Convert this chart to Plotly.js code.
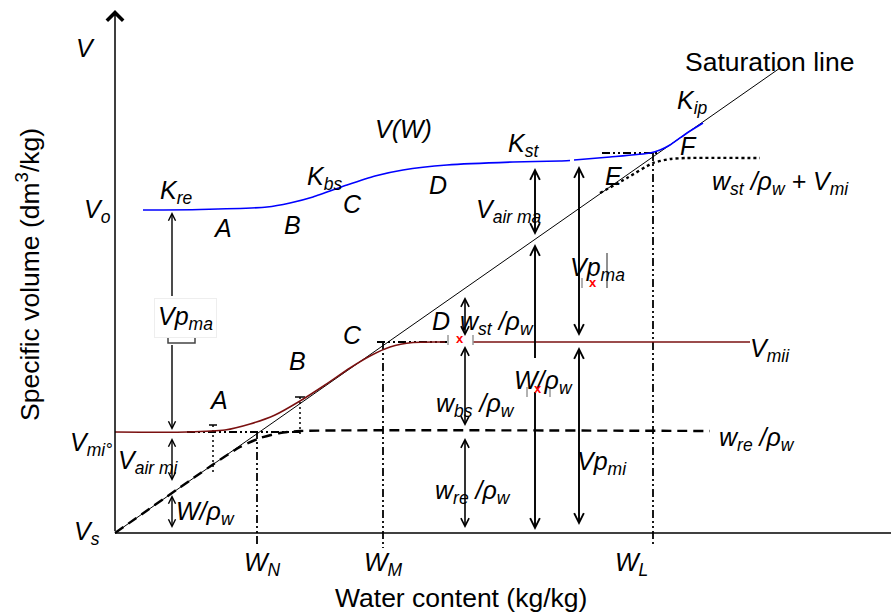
<!DOCTYPE html>
<html>
<head>
<meta charset="utf-8">
<script src="https://cdn.plot.ly/plotly-3.0.1.min.js"></script>
<style>html,body{margin:0;padding:0;background:#fff;}</style>
</head>
<body>
<div id="chart" style="width:891px;height:614px;"></div>
<script>
// ---- data (schematic units, origin at axes corner) ----
const satX = [0, 6.65];
const satY = [0, 4.65];

const vwX = [0.28, 0.85, 1.52, 1.75, 1.98, 2.32, 2.60, 2.88, 3.32, 3.98, 4.45, 4.55, null, 4.59, 4.95, 5.35, 5.45, 5.55, 5.72, 5.88];
const vwY = [3.23, 3.235, 3.26, 3.30, 3.36, 3.48, 3.57, 3.63, 3.68, 3.71, 3.72, 3.725, null, 3.73, 3.76, 3.80, 3.83, 3.88, 4.00, 4.10];

const vmiX = [0, 0.72, 1.10, 1.35, 1.60, 1.85, 2.10, 2.35, 2.55, 2.75, 2.98, 3.30, null, 3.58, 6.35];
const vmiY = [1.01, 1.01, 1.03, 1.09, 1.18, 1.32, 1.48, 1.65, 1.77, 1.86, 1.905, 1.91, null, 1.91, 1.91];

const wreX = [0, 0.98, 1.25, 1.45, 1.65, 1.85, 5.95];
const wreY = [0, 0.685, 0.86, 0.95, 1.00, 1.02, 1.02];

const wstX = [4.85, 5.12, 5.38, 5.55, 5.72, 6.45];
const wstY = [3.40, 3.55, 3.70, 3.74, 3.75, 3.75];

const ddX = [0.72, 1.85, null, 1.42, 1.42, null, 2.62, 3.32, null, 2.68, 2.68, null, 4.87, 5.42, null, 5.38, 5.38];
const ddY = [1.01, 1.01, null, 1.02, -0.14, null, 1.91, 1.91, null, 1.91, -0.15, null, 3.80, 3.80, null, 3.80, -0.14];

const abX = [0.98, 0.98, null, 1.85, 1.85];
const abY = [1.08, 0.61, null, 1.36, 0.96];
const tickX = [0.94, 1.02, null, 1.80, 1.90];
const tickY = [1.08, 1.08, null, 1.36, 1.36];

// arrows: [x, yStart(tail), yEnd(head), side, width]
const arrowsList = [
  [0.57, 2.35, 3.21, 'end', 1.4],
  [0.57, 1.90, 1.03, 'end', 1.4],
  [0.57, 0.50, 0.95, 'end+start', 1.4],
  [0.57, 0.03, 0.38, 'end+start', 1.4],
  [3.50, 1.95, 2.36, 'end+start', 1.6],
  [3.50, 1.05, 1.87, 'end+start', 1.6],
  [3.50, 0.03, 0.95, 'end+start', 1.6],
  [4.20, 2.96, 3.65, 'end+start', 1.9],
  [4.20, 2.91, 1.75, 'start', 1.9],
  [4.20, 1.43, 0.03, 'end', 1.9],
  [4.64, 1.95, 3.67, 'end+start', 1.9],
  [4.64, 0.06, 1.86, 'end+start', 1.9]
];

// labels: [text, x, y]
const labelsList = [
  ['V', -0.30, 4.85],
  ['V<sub>o</sub>', -0.18, 3.22],
  ['K<sub>re</sub>', 0.61, 3.41],
  ['A', 1.07, 3.05],
  ['B', 1.77, 3.08],
  ['K<sub>bs</sub>', 2.09, 3.55],
  ['C', 2.37, 3.29],
  ['V(W)', 2.88, 4.04],
  ['D', 3.23, 3.48],
  ['K<sub>st</sub>', 4.08, 3.88],
  ['V<sub>air ma</sub>', 3.94, 3.22],
  ['K<sub>ip</sub>', 5.77, 4.31],
  ['F', 5.73, 3.87],
  ['E', 4.98, 3.57],
  ['w<sub>st</sub> /ρ<sub>w</sub> + V<sub>mi</sub>', 6.65, 3.50],
  ['Vp<sub>ma</sub>', 4.82, 2.64],
  ['D', 3.26, 2.12],
  ['w<sub>st</sub> /ρ<sub>w</sub>', 3.82, 2.10],
  ['C', 2.37, 1.98],
  ['B', 1.82, 1.72],
  ['A', 1.03, 1.33],
  ['V<sub>mii</sub>', 6.55, 1.83],
  ['W/ρ<sub>w</sub>', 4.28, 1.51],
  ['w<sub>bs</sub> /ρ<sub>w</sub>', 3.60, 1.28],
  ['w<sub>re</sub> /ρ<sub>w</sub>', 6.42, 0.94],
  ['V<sub>mi°</sub>', -0.24, 0.89],
  ['V<sub>air mi</sub>', 0.33, 0.71],
  ['Vp<sub>mi</sub>', 4.87, 0.70],
  ['w<sub>re</sub> /ρ<sub>w</sub>', 3.58, 0.41],
  ['W/ρ<sub>w</sub>', 0.90, 0.20],
  ['V<sub>s</sub>', -0.28, 0.00],
  ['W<sub>N</sub>', 1.47, -0.31],
  ['W<sub>M</sub>', 2.68, -0.31],
  ['W<sub>L</sub>', 5.16, -0.31]
];

const FONT = 'Liberation Sans, Arial, sans-serif';

const traces = [
  {x: satX, y: satY, mode: 'lines', line: {color: '#000', width: 1}},
  {x: ddX, y: ddY, mode: 'lines', line: {color: '#000', width: 1.8, dash: '8px,3px,2px,3px,2px,3px'}},
  {x: abX, y: abY, mode: 'lines', line: {color: '#000', width: 1.5, dash: '2px,3px'}},
  {x: tickX, y: tickY, mode: 'lines', line: {color: '#000', width: 1.5}},
  {x: wreX, y: wreY, mode: 'lines', line: {color: '#000', width: 2.4, dash: '10px,6px', shape: 'spline', smoothing: 0.6}},
  {x: vmiX, y: vmiY, mode: 'lines', line: {color: '#7a1010', width: 1.5, shape: 'spline', smoothing: 0.7}},
  {x: wstX, y: wstY, mode: 'lines', line: {color: '#000', width: 2.4, dash: 'dot', shape: 'spline', smoothing: 0.6}},
  {x: vwX, y: vwY, mode: 'lines', line: {color: '#0000ff', width: 1.6, shape: 'spline', smoothing: 0.6}}
];

const annotations = [];
// y axis with arrowhead
annotations.push({x: 0, y: 5.23, ax: 0, ay: 0, xref: 'x', yref: 'y', axref: 'x', ayref: 'y',
  text: ' ', font: {size: 1}, showarrow: true, arrowhead: 4, arrowsize: 2.1, arrowwidth: 1.5, arrowcolor: '#000'});
arrowsList.forEach(a => {
  annotations.push({x: a[0], y: a[2], ax: a[0], ay: a[1], xref: 'x', yref: 'y', axref: 'x', ayref: 'y',
    text: ' ', font: {size: 1}, showarrow: true, arrowside: a[3], arrowhead: 5, startarrowhead: 5,
    arrowsize: 1, startarrowsize: 1, arrowwidth: a[4], arrowcolor: '#000'});
});
labelsList.forEach(l => {
  annotations.push({x: l[1], y: l[2], xref: 'x', yref: 'y', text: '<i>' + l[0] + '</i>', showarrow: false,
    xanchor: 'center', yanchor: 'middle', font: {family: FONT, size: 25, color: '#000'}});
});
// left Vp_ma label with white box
annotations.push({x: 0.70, y: 2.15, xref: 'x', yref: 'y', text: '<i>Vp<sub>ma</sub></i>', showarrow: false,
  bgcolor: '#fff', bordercolor: '#eeeeee', borderwidth: 1, borderpad: 3,
  font: {family: FONT, size: 25, color: '#000'}});
annotations.push({x: 6.54, y: 4.71, xref: 'x', yref: 'y', text: 'Saturation line', showarrow: false,
  font: {family: FONT, size: 26.5, color: '#000'}});
annotations.push({x: 3.46, y: -0.65, xref: 'x', yref: 'y', text: 'Water content (kg/kg)', showarrow: false,
  font: {family: FONT, size: 26.5, color: '#000'}});
annotations.push({x: -0.87, y: 2.58, xref: 'x', yref: 'y', text: 'Specific volume (dm<sup>3</sup>/kg)', showarrow: false,
  textangle: -90, font: {family: FONT, size: 26.5, color: '#000'}});
// red glitch marks
[[3.45, 1.95], [4.23, 1.45], [4.78, 2.51]].forEach(p => {
  annotations.push({x: p[0], y: p[1], xref: 'x', yref: 'y', text: '<b>x</b>', showarrow: false,
    font: {family: FONT, size: 13, color: '#ff0000'}});
});

const shapes = [
  {type: 'line', xref: 'x', yref: 'y', x0: 0, y0: 0, x1: 7.76, y1: 0, line: {color: '#000', width: 1.5}},
  {type: 'path', xref: 'x', yref: 'y', path: 'M0.53,1.98 L0.53,1.90 L0.80,1.90 L0.80,1.98', line: {color: '#444', width: 1.5}, fillcolor: 'rgba(0,0,0,0)'},
  {type: 'line', xref: 'x', yref: 'y', x0: 3.33, y0: 1.98, x1: 3.33, y1: 1.88, line: {color: '#999', width: 1.5}},
  {type: 'line', xref: 'x', yref: 'y', x0: 3.58, y0: 1.98, x1: 3.58, y1: 1.88, line: {color: '#999', width: 1.5}},
  {type: 'line', xref: 'x', yref: 'y', x0: 4.12, y0: 1.46, x1: 4.12, y1: 1.36, line: {color: '#999', width: 1.5}},
  {type: 'line', xref: 'x', yref: 'y', x0: 4.35, y0: 1.46, x1: 4.35, y1: 1.36, line: {color: '#999', width: 1.5}},
  {type: 'line', xref: 'x', yref: 'y', x0: 4.67, y0: 2.55, x1: 4.67, y1: 2.45, line: {color: '#999', width: 1.5}},
  {type: 'line', xref: 'x', yref: 'y', x0: 4.92, y0: 2.80, x1: 4.92, y1: 2.45, line: {color: '#222', width: 1}}
];

const layout = {
  width: 891, height: 614,
  margin: {l: 0, r: 0, t: 0, b: 0},
  paper_bgcolor: '#fff', plot_bgcolor: '#fff',
  showlegend: false,
  xaxis: {range: [-1.15, 7.76], visible: false, fixedrange: true},
  yaxis: {range: [-0.81, 5.33], visible: false, fixedrange: true},
  annotations: annotations,
  shapes: shapes
};

Plotly.newPlot('chart', traces.map(t => Object.assign({type: 'scatter', hoverinfo: 'skip'}, t)), layout, {staticPlot: true});
</script>
</body>
</html>
